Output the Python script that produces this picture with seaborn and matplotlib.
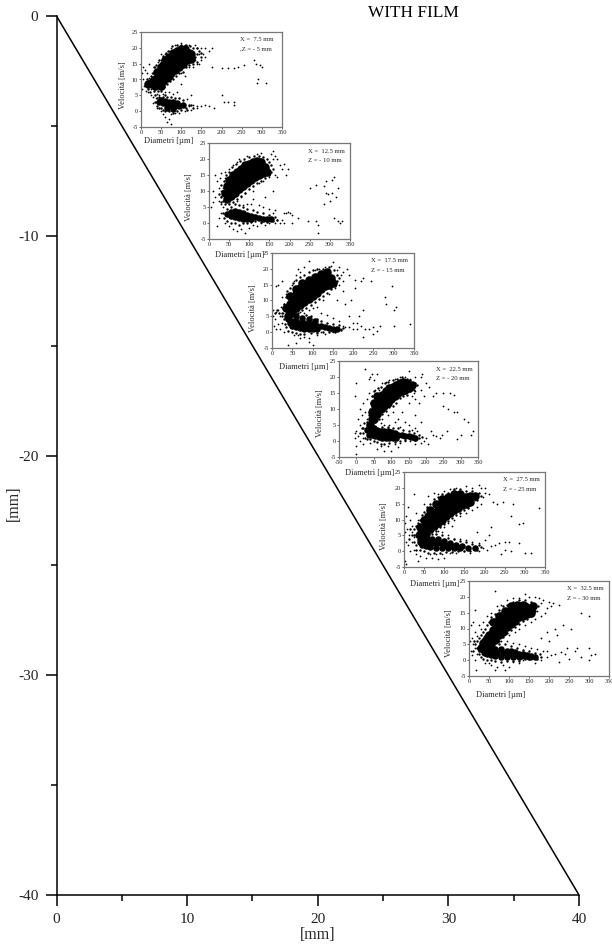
import pandas as pd
import matplotlib
matplotlib.use('Agg')
import matplotlib.pyplot as plt
import seaborn as sns

W, H = 612, 947

# main diagram
x_ticks = [0, 10, 20, 30, 40]
x_minor = [5, 15, 25, 35]
y_ticks = [0, -10, -20, -30, -40]
y_minor = [-5, -15, -25, -35]
line_x = [0, 40]
line_z = [0, -40]

inset_x_ticks = [0, 50, 100, 150, 200, 250, 300, 350]
inset4_x_ticks = [-50, 0, 50, 100, 150, 200, 250, 300, 350]
inset_y_ticks = [-5, 0, 5, 10, 15, 20, 25]

# dense upper branch of each cloud, (diameter, velocity)
up1 = [(35,8),(45,8.5),(55,9.5),(65,10.5),(75,12),(85,13),(95,14),(105,15),(115,16),(125,16.5),
       (25,9),(35,10),(45,11),(55,12.5),(65,14),(75,15),(85,16.5),(95,17),(105,17.5),(115,18),(125,18),
       (40,12.5),(50,14),(60,16),(70,17),(80,18.5),(90,19),(100,19.5),(110,19.5),
       (30,9.5),(40,9.5),(50,10),(60,11),(70,12.5),(80,14),(90,15),(100,16),(110,16.5),(120,17),
       (45,12.5),(55,14.5),(65,15.5),(75,17),(85,18),(95,18.5),(105,18.5),(120,18.5),(50,8),(70,11),(18,8.5)]
up2 = [(45,7.5),(55,8.5),(65,9.5),(75,10.5),(85,11.5),(95,12.5),(105,13.5),(115,14.5),(125,15),(135,15.5),(145,16),
       (40,9.5),(50,11),(60,12.5),(70,13.5),(80,14.5),(90,15.5),(100,16.5),(110,17),(120,17.5),(130,17.5),(140,17.5),
       (50,13.5),(60,15),(70,16),(80,17),(90,18),(100,18.5),(110,19),(120,19.5),(130,19),
       (50,9),(60,10.5),(70,11.5),(80,12.5),(90,13.5),(100,14.5),(110,15.5),(120,16),(130,16.5),(140,16.5),
       (45,11.5),(55,13),(65,14),(75,15),(85,16.5),(95,17),(105,18),(115,18),(125,18.5)]
up3 = [(40,5),(50,6),(60,7.5),(70,8.5),(80,9.5),(90,10.5),(100,11.5),(110,12.5),(120,13.5),(130,14.5),(140,15),(150,15.5),
       (35,7.5),(45,9),(55,10.5),(65,12),(75,13),(85,14),(95,15),(105,15.5),(115,16.5),(125,17),(135,17.5),(145,17),
       (45,11.5),(60,13.5),(75,15.5),(90,16.5),(105,17.5),(120,18.5),(135,19),
       (45,6.5),(55,8.5),(65,10),(75,11),(85,12),(95,13),(105,14),(115,15),(125,15.5),(135,16),
       (50,10.5),(60,12),(70,14),(80,15),(90,15.5),(100,16.5),(115,17.5),(130,18),(145,16)]
up4 = [(40,5),(50,7),(60,8.5),(70,10),(80,11),(90,12),(100,13),(110,14),(120,15),(130,15.5),(140,16),(150,16.5),
       (45,9),(55,11),(65,13),(75,14.5),(85,15.5),(95,16.5),(105,17),(115,17.5),(125,18),(135,18.5),(145,18),(50,12),(60,14),(160,17.5),
       (45,7),(55,9.5),(65,11),(75,12.5),(85,13.5),(95,14.5),(105,15),(115,16),(125,16.5),(135,17),(145,17),(155,17)]
up5 = [(55,5.5),(65,7),(75,8),(85,9),(95,10),(105,11),(115,12),(125,13),(135,13.5),(145,14.5),(155,15),(165,15.5),
       (45,7),(55,9),(65,10.5),(75,11.5),(85,13),(95,14),(105,15),(115,15.5),(125,16),(135,16.5),(145,17),(155,17),(165,17.5),(175,17.5),
       (50,10),(65,13),(80,15),(95,16.5),(110,17),(125,18),(140,18),
       (50,6),(60,8),(70,9),(80,10.5),(90,11.5),(100,12.5),(110,13.5),(120,14),(130,15),(140,15.5),(150,16),(160,16.5),
       (60,11),(70,12.5),(85,14.5),(100,15.5),(115,16.5),(130,17.5),(40,5.5),(50,4.5),(40,7.5)]
up6 = [(55,5),(65,6.5),(75,8),(85,9),(95,10.5),(105,11.5),(115,12.5),(125,13.5),(135,14),(145,14.5),(155,15),
       (40,6),(50,8),(60,9.5),(70,11),(80,12.5),(90,13.5),(100,14.5),(110,15),(120,15.5),(130,16),(140,16.5),(150,16.5),(160,17),
       (60,12),(75,14),(90,15.5),(105,17),(120,17.5),(135,17.5),
       (45,5),(55,6.5),(65,8),(75,9.5),(85,11),(95,12),(105,13),(115,14),(125,14.5),(135,15),(145,15.5),(155,16),
       (65,12),(80,14),(95,14.5),(110,16.5),(125,17),(140,17),(45,7),(35,5.5),(50,5),(30,4),(40,2.5)]

# dense lower branch
low1 = [(45,2.8),(55,2.5),(65,2),(75,1.8),(85,1.5),(95,1.5),(105,1.8),(50,3.5),(60,3.2),(70,3),(80,2.8),(90,2.5),(65,1),(80,0.8)]
low2 = [(45,2.8),(55,3.5),(65,3.8),(75,3.5),(85,3),(95,2.6),(105,2.2),(115,2),(125,1.6),(135,1.4),(145,1.2),(155,1.1),
        (55,2.2),(65,2),(75,1.6),(85,1.4),(95,1.2),(105,1.2),(60,3),(70,2.8),(80,2.3),(90,2)]
low3 = [(40,4),(50,3.5),(60,3.5),(70,3),(80,3),(90,2.5),(100,2.5),(110,2),(120,1.8),(130,1.5),(140,1.2),(150,1),(160,1),
        (50,2),(60,1.5),(70,1.2),(80,1),(90,1.1),(100,1),(110,1),(60,5),(75,4.5),(90,4),(105,3.5),
        (45,3),(55,2.7),(65,2.3),(75,2),(85,2),(95,1.8)]
low4 = [(30,3.5),(40,4),(50,4),(60,3.5),(70,3),(80,3),(90,3),(100,2.8),(110,2.5),(120,2),(130,1.8),(140,1.5),(150,1.5),(160,1.2),(170,1),
        (35,2),(45,2),(55,1.5),(65,1.2),(75,0.8),(85,0.8),(95,1),(105,1),(115,1),
        (40,3),(50,3),(60,2.5),(70,2),(80,1.8),(90,1.8),(100,1.8),(110,1.7)]
low5 = [(35,5),(45,5),(40,3),(50,3.5),(60,4),(70,4),(85,3.8),(100,3.2),(115,2.5),(130,2),(145,1.5),(160,1),(175,1),
        (45,2),(55,1.5),(65,1.2),(80,1),(95,1),(110,1),(125,1),(140,1),
        (40,4),(50,2.5),(60,2.5),(70,2.5),(80,2.5),(90,2.5),(100,2),(110,2),(120,1.7),(130,1.3)]
low6 = [(35,4),(45,3.5),(55,3.5),(65,3.5),(80,3.5),(95,3),(105,2.8),(115,2.5),(125,2),(135,1.8),(145,1.5),(155,1.2),(165,1),
        (45,2),(55,1.5),(65,1.2),(80,1),(95,1),(110,1),(125,1),
        (40,2.5),(50,2.5),(60,2.5),(70,2.3),(85,2.3),(100,2),(115,1.6),(130,1.2),(140,1.2),(150,1)]

# droplets along the edge of the dense parts
edge1 = [(15,8),(20,9),(18,7),(25,11),(30,12),(32,14),(38,14.5),(45,16),(55,17.5),(62,18.5),(68,19),(78,20.5),(90,21),(100,21),(112,21),
         (122,20.5),(130,20),(138,20),(145,19),(150,18.5),(140,18),(135,17),(148,17),(138,15.5),(130,15),(120,14.5),(112,14),(105,12.5),(95,12),
         (88,11),(80,10),(72,9.5),(65,8.5),(58,7.5),(50,6.5),(42,6.5),(32,6.5),(25,7.5),(15,10),(22,6),(35,5),(60,5),
         (35,3),(40,1.5),(45,1),(50,1),(55,0.5),(60,0),(70,0),(80,-0.5),(90,0),(100,0.5),(112,1),(118,2),(115,0.5),(105,3.5),(95,4),(85,4),
         (75,4.5),(65,4.5),(55,4.5),(45,4.5),(40,4),(125,2),(130,1)]
edge2 = [(30,8),(35,7),(30,6.5),(25,9),(32,10),(30,12),(38,13),(42,15),(50,16),(58,17.5),(68,18.5),(78,19.5),(88,20),(100,20.5),(112,21),(125,21),
         (135,20.5),(145,20),(150,19),(155,18),(160,17),(155,16),(150,15),(140,14),(130,13),(120,12.5),(110,11.5),(100,10.5),(90,9.5),(80,8.5),
         (70,7.5),(60,6.5),(50,6),(40,6),(35,3),(38,1.5),(45,0.5),(55,0),(65,0),(75,-0.5),(85,0),(95,0),(105,0.3),(115,0.5),(130,0.3),(145,0.2),
         (160,0.5),(170,1),(165,2),(150,2.5),(135,3),(120,3.5),(108,4),(95,4.5),(85,5),(75,5.5),(65,5.8),(55,5),(45,4.5)]
edge3 = [(25,6),(28,7.5),(30,9),(35,11),(38,13),(45,14),(52,15.5),(60,16.5),(70,17.5),(80,18),(90,19),(100,19.5),(112,20),(125,20),(140,20.5),
         (152,19.5),(160,18),(165,17),(160,16),(155,14.5),(145,13.5),(135,12.5),(125,11.5),(115,10.5),(105,9.5),(95,8.5),(85,7.5),(75,7),(65,6),
         (30,4),(32,2.5),(35,1.5),(40,0.5),(50,0),(60,-0.3),(70,-0.5),(80,-0.5),(95,-0.3),(110,-0.2),(125,0),(140,0.2),(155,0.2),(170,0.8),(175,1.3),
         (165,2.3),(150,2.5),(135,3),(120,3.5),(110,4.2),(95,5),(85,5.5),(25,5),(18,6),(12,7),(8,6)]
edge4 = [(28,4),(30,6),(35,8),(38,10),(42,12),(45,14),(52,15.5),(62,16.5),(72,17),(82,18),(92,18.5),(105,19),(118,19.5),(130,20),(145,19.5),(155,19),
         (168,18),(175,17.5),(165,16),(155,15.5),(145,14.5),(135,14),(125,13.5),(115,12),(105,11),(95,10.5),(85,9.5),(75,8.5),(65,7),(55,6),(45,5.5),
         (20,2.5),(10,2.5),(25,1),(30,0.5),(40,0.5),(50,0),(60,-0.3),(70,-0.8),(80,-1),(95,-0.5),(110,-0.3),(125,0),(140,0.3),(155,0.5),(170,0.3),
         (180,1),(190,1.3),(180,2),(165,2.5),(150,3),(135,3.5),(120,4),(105,4.2),(90,4.5),(75,4.5),(15,4),(20,4),(22,5.5)]
edge5 = [(25,5),(25,7),(30,8),(35,9),(40,10),(45,11.5),(50,12.5),(57,14),(65,15),(75,16.5),(85,17),(95,18),(110,18.5),(125,19.5),(140,19.5),(155,19),
         (170,19),(185,18.5),(190,17.5),(180,16),(170,15),(160,13.5),(150,13),(140,12),(130,11.5),(120,10.5),(110,9.5),(100,8.5),(90,7.5),(80,6.5),(70,5.5),
         (25,3),(30,2),(20,5),(15,7),(12,4),(30,0.5),(40,0.3),(50,0),(60,-0.5),(75,-0.5),(90,-0.5),(105,-0.3),(120,-0.2),(135,0),(150,0),(165,0),
         (180,0.5),(190,1.2),(185,2),(170,2.3),(155,2.8),(140,3.3),(125,3.8),(110,4.2),(95,5),(80,5.3)]
edge6 = [(25,3),(20,4),(15,5),(20,6),(25,7),(30,8),(35,9),(40,10),(45,11),(50,12),(55,13.5),(65,14.5),(75,16),(85,17),(95,17.5),(110,18.5),(125,19),
         (140,19),(155,18.5),(165,17.5),(172,17),(165,15.5),(155,14),(145,13),(135,12.5),(125,11.5),(115,10.5),(105,9.5),(95,8.5),(85,7.2),(75,6),
         (25,2),(30,1),(35,0.5),(45,0.2),(55,0),(65,-0.2),(80,-0.5),(95,-0.3),(110,-0.2),(125,-0.2),(140,0.3),(155,0.5),(170,0.5),(180,1),(178,2),
         (165,2.2),(150,2.8),(135,3.2),(120,4),(105,4.5),(90,5),(75,5),(10,3),(12,6)]

# single droplets around the clouds
dots1 = [(175,14),(200,13.5),(215,13.5),(230,13.5),(240,14),(255,14.5),(280,16),(285,15),(295,14.5),(300,14),(290,10),(287,9),(310,9),
         (200,5),(215,3),(230,3),(232,2),(205,3),(180,1),(170,1.5),(160,2),(150,1.5),(140,1.5),(130,2),(120,1.5),(125,5),(115,3.8),
         (170,19),(175,20),(160,20),(150,20),(145,18),(155,18),(140,20),(135,21),(120,21),(100,21.5),(110,21),(85,21),(55,17),(50,18),
         (20,15),(5,14),(3,12),(10,13),(15,12),(5,10),(8,8),(3,7),(12,6.5),(18,6),(25,5),(30,4.5),(38,4),(40,5.5),(60,6),(70,6),(80,5.5),(90,6),
         (100,8.5),(110,11),(130,14),(140,15),(150,16),(145,15),(160,17),(135,16),(120,14),(100,12),(25,7),(15,9),(20,10.5),(28,12),(35,14),
         (42,15.5),(50,16),(60,18),(70,19),(75,20),(60,-2),(70,-2.5),(65,-3.5),(55,-1),(75,-1),(85,-0.5),(95,-0.5),(40,1),(38,3),(30,2.5),
         (75,-4),(110,0),(125,0.5),(140,1),(50,0),(45,5),(55,5.5)]
dots2 = [(270,-3),(245,0.5),(265,0.5),(270,-0.5),(310,1.5),(320,0.5),(325,0),(330,0.5),(290,9.5),(295,9),(305,9.5),(300,7),(285,6),(250,11),
         (265,12),(285,11.5),(290,13),(305,13.5),(310,14.5),(320,11),(315,8),(200,3),(195,3.5),(190,3),(185,3),(205,2.5),(220,1.5),(205,0),
         (185,0),(175,0),(165,0),(170,1),(180,1),(190,15),(195,17),(180,17),(175,18),(185,18.5),(170,20),(160,20),(165,21),(160,22.5),(155,21.5),
         (130,22),(120,21.5),(95,21),(75,20),(70,19),(60,18),(50,17),(40,16),(30,15.5),(15,15),(28,14),(20,13),(10,10),(25,11),(30,10),(15,8),
         (5,5),(10,6.5),(25,7),(30,6),(35,5),(30,3),(25,1.5),(20,-1),(40,0),(50,-1),(60,-2),(70,-2.5),(80,-2),(90,-3),(100,-1.5),(120,-1),(110,-0.5),
         (130,0),(140,-0.5),(150,0),(85,5.5),(95,6),(105,6),(110,7.5),(125,5.5),(135,5),(150,4.5),(160,3),(165,4),(140,8),(160,10),(135,13),
         (150,14.5),(165,15),(170,14.5),(125,12.5),(110,10),(90,9.5),(80,8),(70,7),(30,8.5),(35,11),(40,14)]
dots3 = [(295,14.5),(280,9),(300,7),(305,8),(278,11),(225,17),(220,16),(245,16),(205,16.5),(205,14),(215,5),(225,7),(180,9),(195,10),(190,5),
         (200,3),(210,3),(220,2),(230,1),(240,1),(250,1.5),(260,0.5),(265,2),(210,1),(200,1),(190,1.5),(180,1.5),(170,1),(175,2),(225,-1.5),
         (250,-0.5),(340,2.5),(300,2),(100,-4),(60,-3.5),(40,-4),(90,-3),(70,-2),(80,-1.5),(90,-2),(55,-1),(65,-1),(110,-1),(130,-0.5),(150,0),
         (120,0),(30,0),(20,1),(10,1),(5,2),(15,2.5),(25,3),(8,4),(3,5),(3,7),(10,6.5),(15,7),(22,8),(10,14.5),(25,16),(15,15),(50,15),(35,12),
         (25,11),(30,9),(20,5),(28,6),(65,20),(60,18),(55,16),(70,19),(90,22.5),(80,20.5),(105,19.5),(115,20),(130,20.5),(145,21),(150,22),
         (165,20.5),(175,19),(185,20),(170,18),(190,18),(160,19.5),(165,15),(175,16),(155,14),(140,12),(125,10),(110,8),(100,7.5),(90,7),
         (120,6),(135,5.5),(150,4.5),(165,3.5),(80,6),(70,6.5),(160,10),(175,13)]
dots4 = [(25,22.5),(0,18),(-5,14),(60,21),(40,20),(35,19.5),(50,19),(45,21),(150,22),(170,20),(185,20),(190,21),(200,18),(210,17),(220,14),
         (230,15),(250,15),(270,15),(280,14.5),(250,11),(265,10),(280,9),(290,9),(310,7),(320,6),(335,3),(330,2),(300,2),(290,0.5),(260,3),
         (245,2),(240,1),(230,1.5),(220,2),(215,3),(200,1),(195,0),(205,-1),(185,-0.5),(170,-1),(170,4),(185,6),(170,8),(180,12),(170,13),(195,14),
         (185,16),(170,15.5),(165,15),(160,14),(150,12),(130,9),(120,7),(110,6),(140,6),(125,4.5),(150,5),(160,3.5),(175,3),(95,5),(80,5),(70,5.5),
         (75,7),(90,8),(105,9),(20,-1),(0,-1.5),(10,0),(-5,1),(5,1.5),(20,1),(0,3),(-5,2.5),(10,5),(5,7),(15,8),(10,10),(20,12),(25,9),(30,7),(30,13),
         (35,15),(55,16),(45,14),(65,16),(75,18),(85,18.5),(95,19),(110,19.5),(125,20),(140,20),(155,19.5),(60,-2.5),(80,-3),(100,-3),(70,-1.5),
         (90,-1.5),(40,-0.5),(110,-1),(125,-0.5),(140,0),(155,0),(0,-4),(120,-2)]
dots5 = [(335,13.5),(285,8.5),(265,11),(295,9),(270,15),(245,15.5),(230,15),(220,15.5),(210,18),(200,18.5),(195,17),(200,20),(190,20),(185,21),
         (170,20),(155,20.5),(130,20),(115,19.5),(100,19),(85,18),(75,18.5),(60,17.5),(50,15),(25,18),(10,14),(5,11),(2,9),(15,10),(30,12),(35,10),
         (20,8),(8,7),(3,6),(12,5),(20,6),(25,4.5),(5,3),(10,2),(20,3),(15,0),(25,0.5),(30,-1),(40,-1.5),(55,-2),(70,-2),(85,-2.5),(100,-2),(65,-1),
         (80,-1),(95,-1),(115,-0.5),(130,-0.5),(150,0),(165,-0.5),(3,-3),(5,-4),(35,-3),(185,0),(195,1),(205,0.5),(215,1.5),(225,2),(235,2.5),(250,3),
         (260,3),(285,2.5),(265,0),(250,0.5),(240,-1),(300,-0.5),(315,-0.5),(125,4),(140,4),(155,3.5),(170,3),(185,2.5),(110,5),(95,6),(85,6.5),
         (100,7.5),(110,9),(125,10),(140,11),(155,12),(170,13),(180,14),(190,15),(165,14.5),(175,16),(120,8),(200,3.5),(210,5),(215,7.5),(180,6)]
dots6 = [(65,22),(300,14),(280,15),(225,17.5),(210,18),(200,18.5),(205,17),(195,16.5),(180,18),(185,19),(175,19.5),(165,20),(150,20),(140,21),
         (125,19.5),(110,19.5),(95,19),(80,17.5),(70,17),(55,15),(45,14),(15,16),(5,11),(10,12),(25,11),(30,10),(15,9),(35,12),(20,7.5),(8,7),(3,6),
         (10,5),(15,4),(5,3),(20,2),(8,1.5),(15,0),(18,-3),(40,-1),(55,-1.5),(50,-1),(70,-2),(85,-1.5),(100,-2),(65,-3),(90,-3),(125,-1),(110,-0.5),
         (135,0),(150,0.5),(165,-1),(180,0),(195,1),(205,1.5),(215,2),(230,2.5),(240,2),(245,4),(265,3),(270,4),(300,4),(305,1.5),(315,2),(300,0),
         (280,1),(225,-0.5),(250,0.5),(195,3),(185,3),(170,3.5),(155,4),(140,4.5),(125,5),(110,5.5),(95,6),(80,6),(85,7.5),(100,8),(115,9),(125,10),
         (140,11),(155,12),(165,13),(180,14),(190,15),(170,15.5),(200,6),(220,8),(215,10),(235,11),(255,10),(195,9),(180,7)]

labels_x = ['X =  7.5 mm', 'X =  12.5 mm', 'X =  17.5 mm', 'X =  22.5 mm', 'X =  27.5 mm', 'X =  32.5 mm']
labels_z = [',Z = - 5 mm', 'Z = - 10 mm', 'Z = - 15 mm', 'Z = - 20 mm', 'Z = - 25 mm', 'Z = - 30 mm']

sns.set_theme(style='white')
plt.rcParams['font.family'] = ['Liberation Serif', 'DejaVu Serif']
plt.rcParams['axes.unicode_minus'] = False


def px_box(left, top, right, bottom):
    return [left / W, 1 - bottom / H, (right - left) / W, (bottom - top) / H]


def cloud(ax, points, size):
    df = pd.DataFrame(points, columns=['d', 'v'])
    sns.scatterplot(data=df, x='d', y='v', s=size, color='black', linewidth=0, ax=ax)


def draw_inset(box, up, low, edge, dots, x_range, xticks, lab_x, lab_z, xlab_pos, ylab_pos):
    left, top, right, bottom = box
    ax = fig.add_axes(px_box(*box))
    ax.patch.set_alpha(0)
    cloud(ax, up, 38)
    cloud(ax, low, 22)
    cloud(ax, edge, 3)
    cloud(ax, dots, 1.6)
    ax.set_xlim(*x_range)
    ax.set_ylim(-5, 25)
    ax.set_xticks(xticks)
    ax.set_yticks(inset_y_ticks)
    ax.tick_params(labelsize=4.6, length=1.5, width=0.5, pad=1, colors='#222222', left=True, bottom=True)
    for s in ax.spines.values():
        s.set_color('#777777')
        s.set_linewidth(0.9)
    ax.set_xlabel('Diametri [µm]', fontsize=6, va='center')
    ax.set_ylabel('Velocità [m/s]', fontsize=6, va='center')
    ax.xaxis.set_label_coords((xlab_pos[0] - left) / (right - left), (bottom - xlab_pos[1]) / (bottom - top))
    ax.yaxis.set_label_coords((ylab_pos[0] - left) / (right - left), (bottom - ylab_pos[1]) / (bottom - top))
    ax.text(0.70, 0.916, lab_x, transform=ax.transAxes, fontsize=4.8, va='center')
    ax.text(0.70, 0.82, lab_z, transform=ax.transAxes, fontsize=4.8, va='center')


fig = plt.figure(figsize=(W / 100, H / 100), dpi=100)
ax = fig.add_axes(px_box(56.5, 16, 579, 895))
sns.lineplot(x=line_x, y=line_z, color='black', linewidth=1.1, ax=ax)
ax.set_xlim(0, 40)
ax.set_ylim(-40, 0)
ax.set_xticks(x_ticks)
ax.set_xticks(x_minor, minor=True)
ax.set_yticks(y_ticks)
ax.set_yticks(y_minor, minor=True)
ax.tick_params(which='major', length=8, width=1.1, labelsize=11, pad=5, color='black', labelcolor='#222222', left=True, bottom=True)
ax.tick_params(which='minor', length=4.5, width=1.1, color='black', left=True, bottom=True)
sns.despine(ax=ax)
for side in ['left', 'bottom']:
    ax.spines[side].set_color('black')
    ax.spines[side].set_linewidth(1.1)
ax.set_xlabel('[mm]', fontsize=11.5, va='center')
ax.set_ylabel('[mm]', fontsize=11.5, va='center')
ax.xaxis.set_label_coords(0.5, -0.046)
ax.yaxis.set_label_coords(-0.081, 0.446)

fig.text(413 / W, 1 - 13 / H, 'WITH FILM', fontsize=12.4, ha='center', va='center', color='black')

draw_inset((141, 32, 282, 127), up1, low1, edge1, dots1, (0, 350), inset_x_ticks, labels_x[0], labels_z[0], (169, 141), (123, 85))
draw_inset((209, 143, 350, 239), up2, low2, edge2, dots2, (0, 350), inset_x_ticks, labels_x[1], labels_z[1], (240, 255), (189, 197))
draw_inset((272, 253, 414, 348), up3, low3, edge3, dots3, (0, 350), inset_x_ticks, labels_x[2], labels_z[2], (304, 367), (253, 308))
draw_inset((339, 361, 478, 457), up4, low4, edge4, dots4, (-50, 350), inset4_x_ticks, labels_x[3], labels_z[3], (370, 473), (320, 413))
draw_inset((404, 472, 545, 567), up5, low5, edge5, dots5, (0, 350), inset_x_ticks, labels_x[4], labels_z[4], (435, 584), (384, 526))
draw_inset((469, 581, 609, 676), up6, low6, edge6, dots6, (0, 350), inset_x_ticks, labels_x[5], labels_z[5], (501, 695), (449, 633))

fig.savefig('out.png', dpi=100)
plt.close(fig)
